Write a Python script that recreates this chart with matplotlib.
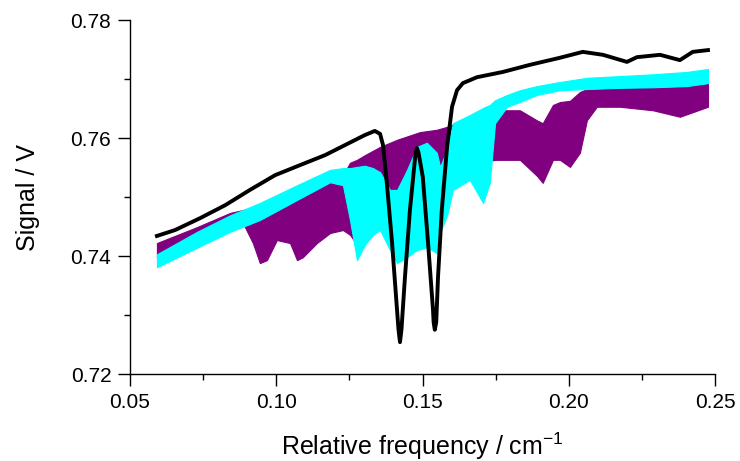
import matplotlib
matplotlib.use("Agg")
import matplotlib.pyplot as plt
from matplotlib.ticker import MultipleLocator

plt.rcParams['font.family'] = ['Liberation Sans', 'DejaVu Sans']
plt.rcParams['mathtext.default'] = 'regular'

# black trace
black_x = [0.0592, 0.0654, 0.0739, 0.0825, 0.0910, 0.0996, 0.1081, 0.1167, 0.1235, 0.1303,
           0.1337, 0.1355, 0.1365, 0.1378, 0.1396, 0.1413, 0.1418, 0.1423, 0.1428, 0.1440,
           0.1457, 0.1474, 0.1477, 0.1481, 0.1486, 0.1501, 0.1519, 0.1536, 0.1538, 0.1542,
           0.1547, 0.1553, 0.1566, 0.1584, 0.1594, 0.1601, 0.1618, 0.1638, 0.1686, 0.1775,
           0.1867, 0.1970, 0.2048, 0.2117, 0.2199, 0.2233, 0.2312, 0.2380, 0.2424, 0.2476]
black_y = [0.7434, 0.7444, 0.7464, 0.7486, 0.7512, 0.7537, 0.7554, 0.7571, 0.7588, 0.7605,
           0.7612, 0.7607, 0.7588, 0.7524, 0.7422, 0.7308, 0.7275, 0.7254, 0.7275, 0.7364,
           0.7478, 0.7563, 0.7576, 0.7583, 0.7576, 0.7534, 0.7422, 0.7308, 0.7288, 0.7275,
           0.7288, 0.7364, 0.7478, 0.7585, 0.7625, 0.7653, 0.7681, 0.7693, 0.7703, 0.7712,
           0.7724, 0.7736, 0.7746, 0.7741, 0.7729, 0.7737, 0.7741, 0.7732, 0.7746, 0.7749]

# cyan band (upper / lower envelope)
cyan_x = [0.0592, 0.0729, 0.0842, 0.0944, 0.1071, 0.1184, 0.1228, 0.1252, 0.1276, 0.1303,
          0.1331, 0.1355, 0.1389, 0.1413, 0.1447, 0.1481, 0.1515, 0.1549, 0.1560, 0.1584,
          0.1604, 0.1662, 0.1707, 0.1730, 0.1748, 0.1789, 0.1833, 0.1891, 0.1970, 0.2062,
          0.2175, 0.2288, 0.2404, 0.2476]
cyan_top = [0.7403, 0.7441, 0.7469, 0.7490, 0.7520, 0.7546, 0.7549, 0.7549, 0.7551, 0.7553,
            0.7549, 0.7542, 0.7512, 0.7512, 0.7546, 0.7585, 0.7592, 0.7575, 0.7551, 0.7580,
            0.7625, 0.7639, 0.7651, 0.7656, 0.7664, 0.7673, 0.7681, 0.7688, 0.7695, 0.7702,
            0.7705, 0.7708, 0.7712, 0.7717]
cyan_bot = [0.7381, 0.7414, 0.7441, 0.7461, 0.7495, 0.7525, 0.7520, 0.7461, 0.7393, 0.7419,
            0.7436, 0.7444, 0.7410, 0.7388, 0.7398, 0.7410, 0.7415, 0.7405, 0.7439, 0.7469,
            0.7512, 0.7529, 0.7490, 0.7524, 0.7625, 0.7653, 0.7661, 0.7673, 0.7681, 0.7683,
            0.7685, 0.7686, 0.7688, 0.7693]

# purple band (upper / lower envelope)
purple_x = [0.0592, 0.0729, 0.0842, 0.0886, 0.0920, 0.0944, 0.0968, 0.1002, 0.1047, 0.1071,
            0.1091, 0.1139, 0.1184, 0.1228, 0.1252, 0.1276, 0.1303, 0.1355, 0.1413, 0.1491,
            0.1549, 0.1584, 0.1638, 0.1696, 0.1754, 0.1833, 0.1891, 0.1911, 0.1946, 0.1970,
            0.2004, 0.2038, 0.2062, 0.2096, 0.2175, 0.2288, 0.2380, 0.2476]
purple_top = [0.7422, 0.7449, 0.7473, 0.7478, 0.7481, 0.7486, 0.7490, 0.7495, 0.7503, 0.7512,
              0.7512, 0.7520, 0.7529, 0.7537, 0.7558, 0.7563, 0.7571, 0.7585, 0.7597, 0.7610,
              0.7614, 0.7619, 0.7630, 0.7636, 0.7647, 0.7647, 0.7630, 0.7625, 0.7656, 0.7661,
              0.7663, 0.7678, 0.7683, 0.7686, 0.7686, 0.7686, 0.7688, 0.7693]
purple_bot = [0.7397, 0.7427, 0.7449, 0.7456, 0.7422, 0.7388, 0.7393, 0.7427, 0.7422, 0.7393,
              0.7398, 0.7422, 0.7439, 0.7444, 0.7436, 0.7419, 0.7427, 0.7495, 0.7495, 0.7486,
              0.7478, 0.7524, 0.7560, 0.7560, 0.7563, 0.7563, 0.7536, 0.7524, 0.7563, 0.7563,
              0.7551, 0.7575, 0.7630, 0.7653, 0.7653, 0.7647, 0.7636, 0.7653]

fig = plt.figure(figsize=(7.4, 4.61), dpi=100)
ax = fig.add_axes([0.1757, 0.1887, 0.7905, 0.7679])

ax.fill_between(purple_x, purple_bot, purple_top, color='#800080', lw=0.8, zorder=1)
ax.fill_between(cyan_x, cyan_bot, cyan_top, color='#00FFFF', lw=0.8, zorder=2)
ax.plot(black_x, black_y, color='black', lw=2.8, zorder=3)

ax.set_xlim(0.05, 0.25)
ax.set_ylim(0.72, 0.78)
ax.xaxis.set_major_locator(MultipleLocator(0.05))
ax.xaxis.set_minor_locator(MultipleLocator(0.025))
ax.yaxis.set_major_locator(MultipleLocator(0.02))
ax.yaxis.set_minor_locator(MultipleLocator(0.01))
ax.xaxis.set_major_formatter(plt.FormatStrFormatter('%.2f'))
ax.yaxis.set_major_formatter(plt.FormatStrFormatter('%.2f'))

for side in ['top', 'right']:
    ax.spines[side].set_visible(False)
for side in ['left', 'bottom']:
    ax.spines[side].set_linewidth(1.0)
ax.tick_params(which='major', direction='out', length=8.5, width=1, labelsize=15, pad=5)
ax.tick_params(which='minor', direction='out', length=4.5, width=1)

ax.set_xlabel('Relative frequency / cm$^{-1}$', fontsize=18, va='center')
ax.set_ylabel('Signal / V', fontsize=18, va='center')
ax.xaxis.set_label_coords(0.5, -0.203)
ax.yaxis.set_label_coords(-0.174, 0.5)

fig.savefig('out.png', dpi=100)
